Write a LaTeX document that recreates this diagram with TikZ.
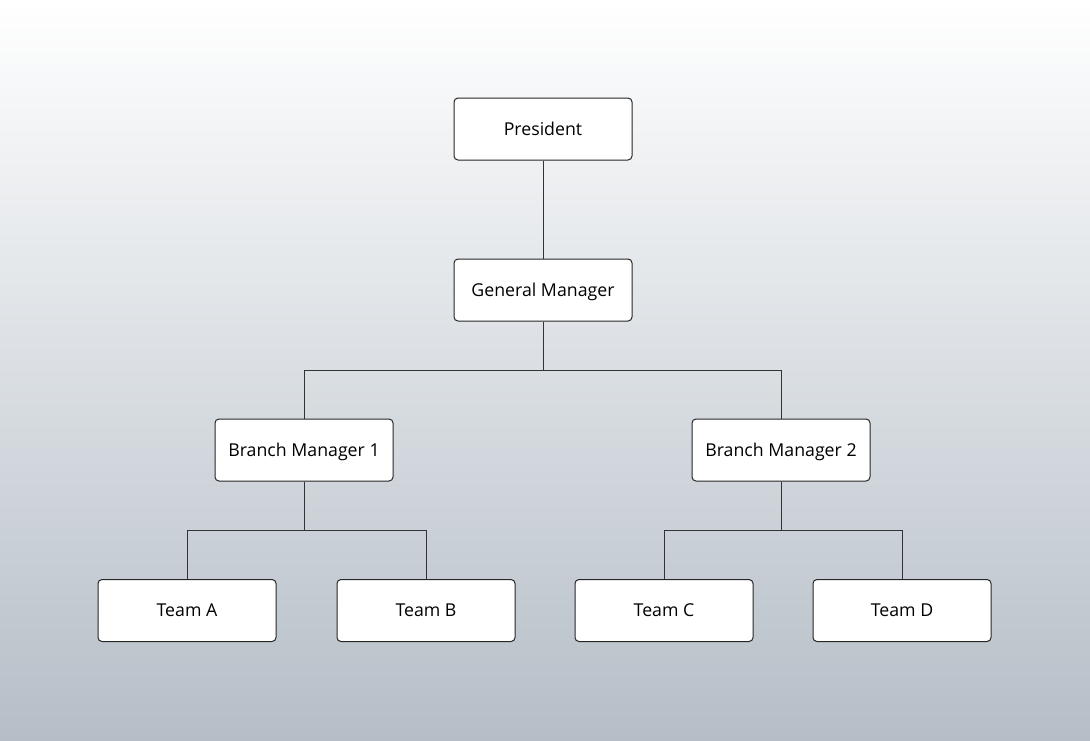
\documentclass[tikz,border=0pt]{standalone}
\usepackage{fontspec}
\setmainfont{Open Sans}
\begin{document}
\begin{tikzpicture}[x=0.75pt,y=-0.75pt,
  box/.style={draw=black!85,line width=0.75pt,fill=white,rounded corners=3pt,minimum width=133.5pt,minimum height=46.5pt,inner sep=0pt,text height=9.4pt,text depth=0pt,font=\fontsize{13.3}{15}\selectfont},
  link/.style={draw=black!80,line width=0.75pt}]
\definecolor{bgbot}{RGB}{181,190,199}
\shade[top color=white,bottom color=bgbot] (0,0) rectangle (1090,740);
\useasboundingbox (0,0) rectangle (1090,740);
\node[box] (pres) at (543,129) {President};
\node[box] (gm) at (543,290) {General Manager};
\node[box] (bm1) at (304,450) {Branch Manager 1};
\node[box] (bm2) at (781,450) {Branch Manager 2};
\node[box] (ta) at (187,610.5) {Team A};
\node[box] (tb) at (426,610.5) {Team B};
\node[box] (tc) at (664,610.5) {Team C};
\node[box] (td) at (902,610.5) {Team D};
\coordinate (j0) at (543,370);
\coordinate (j1) at (304,530);
\coordinate (j2) at (781,530);
\draw[link] (pres.south) -- (gm.north);
\draw[link] (gm.south) -- (j0) -| (bm1.north);
\draw[link] (j0) -| (bm2.north);
\draw[link] (bm1.south) -- (j1) -| (ta.north);
\draw[link] (j1) -| (tb.north);
\draw[link] (bm2.south) -- (j2) -| (tc.north);
\draw[link] (j2) -| (td.north);
\end{tikzpicture}
\end{document}
